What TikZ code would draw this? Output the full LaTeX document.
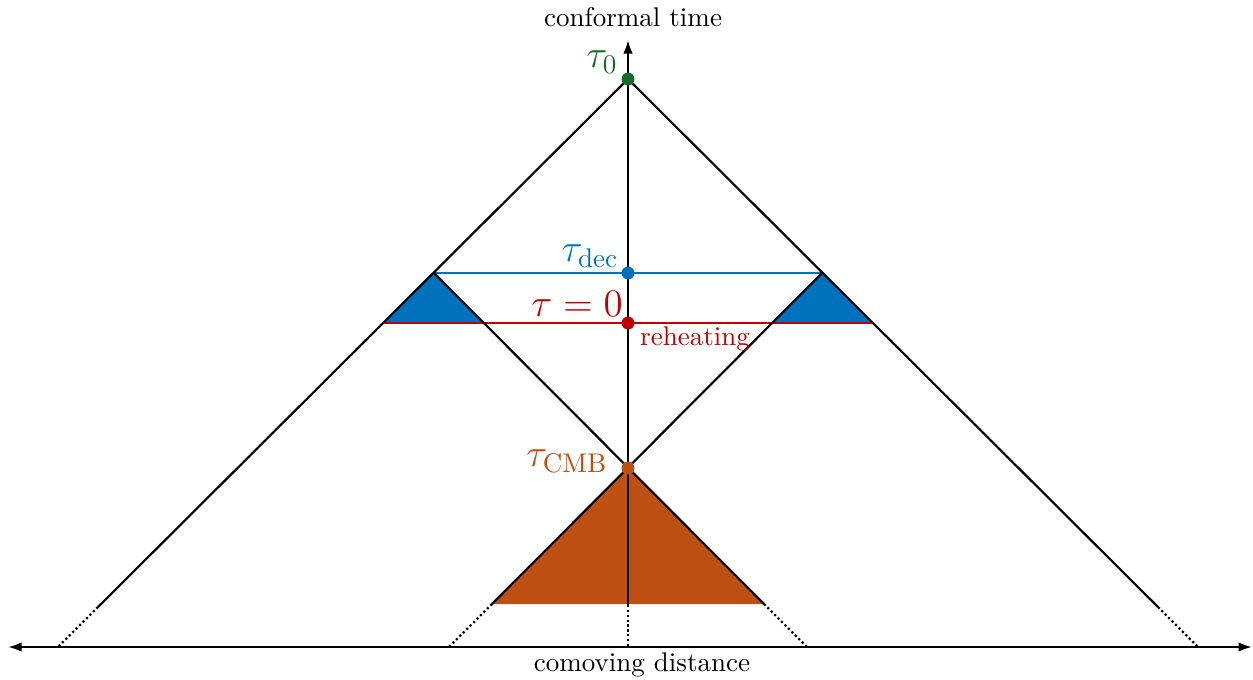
\documentclass[tikz,border=0pt]{standalone}
\usetikzlibrary{arrows.meta}
\definecolor{cgreen}{RGB}{26,105,40}
\definecolor{cblue}{RGB}{0,114,189}
\definecolor{cred}{RGB}{190,0,0}
\definecolor{corange}{RGB}{191,80,20}
\begin{document}
\begin{tikzpicture}[x=0.37pt,y=-0.37pt,
  blk/.style={black,line width=0.8pt},
  dotln/.style={black,line width=0.8pt,densely dotted},
  pt/.style={circle,fill,inner sep=0pt,minimum size=4.8pt},
  lbl/.style={inner sep=0pt,font=\Large}]
\useasboundingbox (0,0) rectangle (1253,679);
% key coordinates
\coordinate (t0) at (628,79);
\coordinate (tdec) at (628,273);
\coordinate (treh) at (628,323);
\coordinate (tcmb) at (628,468);
\coordinate (decL) at (434,273);
\coordinate (decR) at (822,273);
\coordinate (rehL) at (384,323);
\coordinate (rehR) at (872,323);
\coordinate (inL) at (483,323);
\coordinate (inR) at (773,323);
\coordinate (bigL) at (98,607);
\coordinate (bigR) at (1158,607);
\coordinate (bigLx) at (58,647);
\coordinate (bigRx) at (1198,647);
\coordinate (cmbL) at (492,604);
\coordinate (cmbR) at (764,604);
\coordinate (cmbLx) at (449,647);
\coordinate (cmbRx) at (807,647);
\coordinate (vbot) at (628,605);
\coordinate (vaxis) at (628,647);
\coordinate (vtop) at (628,40);
\coordinate (hl) at (8,647);
\coordinate (hr) at (1252,647);
% fills
\fill[cblue] (decL) -- (rehL) -- (inL) -- cycle;
\fill[cblue] (decR) -- (inR) -- (rehR) -- cycle;
\fill[corange] (tcmb) -- (cmbL) -- (cmbR) -- cycle;
% coloured lines
\draw[cblue,line width=0.8pt] (decL) -- (decR);
\draw[cred,line width=0.8pt] (rehL) -- (rehR);
% black lines
\draw[blk] (bigL) -- (t0) -- (bigR);
\draw[blk] (decL) -- (cmbR);
\draw[blk] (decR) -- (cmbL);
\draw[blk,-{Latex[length=5pt,width=3.5pt]}] (vbot) -- (vtop);
\draw[dotln] (bigL) -- (bigLx);
\draw[dotln] (bigR) -- (bigRx);
\draw[dotln] (cmbL) -- (cmbLx);
\draw[dotln] (cmbR) -- (cmbRx);
\draw[dotln] (vbot) -- (vaxis);
\draw[blk,{Latex[length=5pt,width=3.5pt]}-{Latex[length=5pt,width=3.5pt]}] (hl) -- (hr);
% points
\node[pt,cgreen] (p0) at (t0) {};
\node[pt,cblue] (pdec) at (tdec) {};
\node[pt,cred] (preh) at (treh) {};
\node[pt,corange] (pcmb) at (tcmb) {};
% labels
\node[lbl,cgreen] (l0) at (602,62) {$\tau_0$};
\node[lbl,cblue] (ldec) at (590,256) {$\tau_{\mathrm{dec}}$};
\node[lbl,cred] (lreh) at (577,304) {$\tau=0$};
\node[inner sep=0pt,cred] (reh) at (695,339) {reheating};
\node[lbl,corange] (lcmb) at (567,461) {$\tau_{\mathrm{CMB}}$};
\node[inner sep=0pt] (ct) at (633,17) {conformal time};
\node[inner sep=0pt] (cd) at (642,665) {comoving distance};
\end{tikzpicture}
\end{document}
